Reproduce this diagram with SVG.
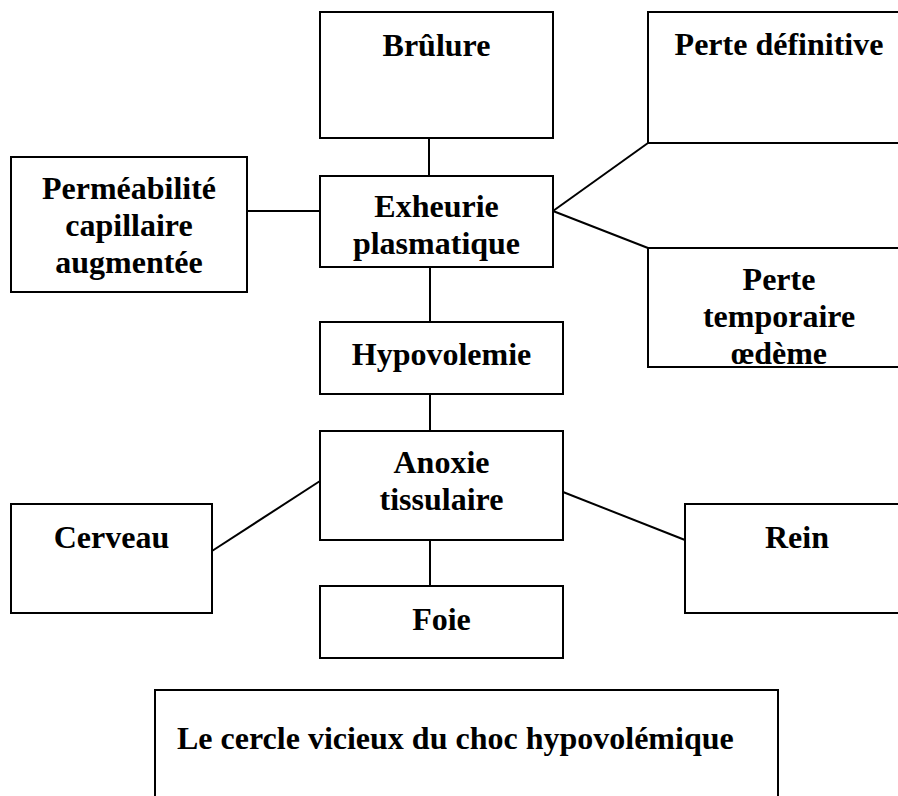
<svg xmlns="http://www.w3.org/2000/svg" width="898" height="796" viewBox="0 0 898 796">
<style>
rect{fill:#fff;stroke:#000;stroke-width:2}
text{font-family:"Liberation Serif","Times New Roman",serif;font-weight:bold;font-size:32px;fill:#000;text-anchor:middle}
#connectors line{stroke:#000;stroke-width:2}
</style>
<rect x="0" y="0" width="898" height="796" style="fill:#fff;stroke:none"/>
<g id="connectors">
<line x1="429" y1="138" x2="429" y2="176"/>
<line x1="247" y1="211" x2="320" y2="211"/>
<line x1="553" y1="211" x2="648" y2="143"/>
<line x1="553" y1="211" x2="648" y2="248"/>
<line x1="430" y1="267" x2="430" y2="322"/>
<line x1="430" y1="394" x2="430" y2="431"/>
<line x1="320" y1="481" x2="212" y2="551"/>
<line x1="563" y1="492" x2="685" y2="540"/>
<line x1="430" y1="540" x2="430" y2="586"/>
</g>
<g id="brulure"><rect x="320" y="12" width="233" height="126"/><text x="436.5" y="56">Brûlure</text></g>
<g id="perte_definitive"><rect x="648" y="12" width="262" height="131"/><text x="779" y="55">Perte définitive</text></g>
<g id="permeabilite"><rect x="11" y="157" width="236" height="135"/><text x="129" y="199">Perméabilité</text><text x="129" y="236">capillaire</text><text x="129" y="273">augmentée</text></g>
<g id="exheurie"><rect x="320" y="176" width="233" height="91"/><text x="436.5" y="217">Exheurie</text><text x="436.5" y="254">plasmatique</text></g>
<g id="perte_temporaire"><rect x="648" y="248" width="262" height="119"/><text x="779" y="290">Perte</text><text x="779" y="327">temporaire</text><text x="779" y="364">œdème</text></g>
<g id="hypovolemie"><rect x="320" y="322" width="243" height="72"/><text x="441.5" y="365">Hypovolemie</text></g>
<g id="anoxie"><rect x="320" y="431" width="243" height="109"/><text x="441.5" y="473">Anoxie</text><text x="441.5" y="510">tissulaire</text></g>
<g id="cerveau"><rect x="11" y="504" width="201" height="109"/><text x="111.5" y="548">Cerveau</text></g>
<g id="rein"><rect x="685" y="504" width="225" height="109"/><text x="797" y="548">Rein</text></g>
<g id="foie"><rect x="320" y="586" width="243" height="72"/><text x="441.5" y="630">Foie</text></g>
<g id="titre"><rect x="155" y="690" width="623" height="120"/><text x="177" y="749" style="text-anchor:start">Le cercle vicieux du choc hypovolémique</text></g>
</svg>
